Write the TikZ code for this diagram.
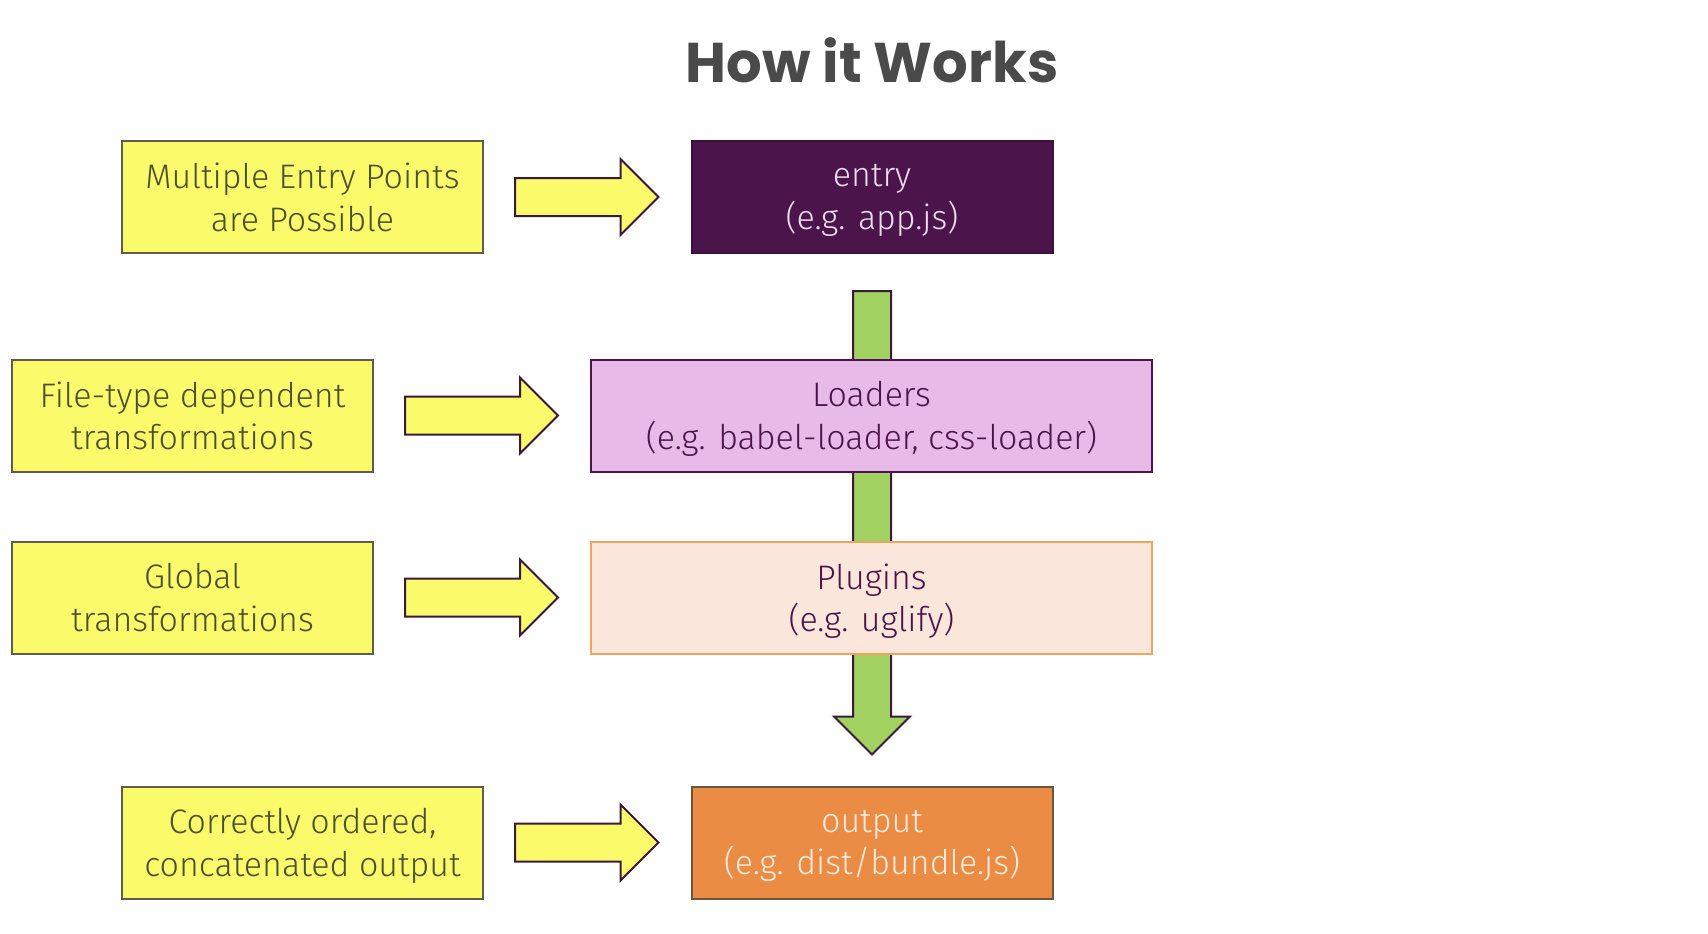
\documentclass[tikz,border=0pt]{standalone}
\usepackage{fontspec}
\setmainfont{Fira Sans Light}
\newfontfamily\titlefont{Poppins}[UprightFont=* Bold]
\usetikzlibrary{backgrounds,calc}
\definecolor{yel}{HTML}{FAFA6A}
\definecolor{yelborder}{HTML}{5E5E50}
\definecolor{yeltext}{HTML}{4E4E30}
\definecolor{plum}{HTML}{4B154B}
\definecolor{plumtext}{HTML}{ECDDEC}
\definecolor{pink}{HTML}{E8BAE8}
\definecolor{peach}{HTML}{FAE6DA}
\definecolor{peachborder}{HTML}{F2A45E}
\definecolor{orng}{HTML}{EA8C44}
\definecolor{orngborder}{HTML}{6A5545}
\definecolor{orngtext}{HTML}{FCEBDC}
\definecolor{grn}{HTML}{A2D262}
\definecolor{arrowborder}{HTML}{3A1A3A}
\definecolor{titlegray}{HTML}{4A4A4A}
\begin{document}
\begin{tikzpicture}[x=1pt,y=-1pt,
  box/.style={draw, line width=2pt, minimum width=361pt, minimum height=112pt, align=center, inner sep=0pt,
    font=\fontsize{34}{42.5}\selectfont, execute at begin node=\rule{0pt}{25.5pt},
    text depth=0pt},
  wide/.style={box, minimum width=561pt},
  note/.style={box, fill=yel, draw=yelborder, text=yeltext},
  bigarrow/.style={draw=arrowborder, line width=2pt, line join=miter},
]
\useasboundingbox (0,0) rectangle (1708,934);
\node[font=\titlefont\fontsize{56}{60}\selectfont, text=titlegray] (title) at (872,60) {How it Works};

\node[note] (n1) at (302.5,197) {Multiple Entry Points\\are Possible};
\node[note] (n2) at (192.5,415.5) {File-type dependent\\transformations};
\node[note] (n3) at (192.5,597.5) {Global\\transformations};
\node[note] (n4) at (302.5,842.5) {Correctly ordered,\\concatenated output};

\node[box, fill=plum, draw=plum!80!black, text=plumtext] (entry) at (872,197) {entry\\(e.g. app.js)};
\node[wide, fill=pink, draw=plum, text=plum] (loaders) at (871.5,415.5) {Loaders\\(e.g. babel-loader, css-loader)};
\node[wide, fill=peach, draw=peachborder, text=plum] (plugins) at (871.5,597.5) {Plugins\\(e.g. uglify)};
\node[box, fill=orng, draw=orngborder, text=orngtext] (output) at (872,842.5) {output\\(e.g. dist/bundle.js)};

% green flow arrow behind the boxes
\begin{scope}[on background layer]
\draw[bigarrow, fill=grn]
  ($(entry.south)+(-19,37)$) -- ($(entry.south)+(19,37)$) --
  ($(output.north)+(19,-69)$) -- ($(output.north)+(38,-69)$) --
  ($(output.north)+(0,-31)$) -- ($(output.north)+(-38,-69)$) --
  ($(output.north)+(-19,-69)$) -- cycle;
\end{scope}

% yellow block arrows
\foreach \a/\b in {n1/entry, n2/loaders, n3/plugins, n4/output}{
  \draw[bigarrow, fill=yel]
    ($(\a.east)+(31,-19)$) -- ($(\b.west)+(-70,-19)$) -- ($(\b.west)+(-70,-38)$) --
    ($(\b.west)+(-32,0)$) -- ($(\b.west)+(-70,38)$) -- ($(\b.west)+(-70,19)$) --
    ($(\a.east)+(31,19)$) -- cycle;
}
\end{tikzpicture}
\end{document}
